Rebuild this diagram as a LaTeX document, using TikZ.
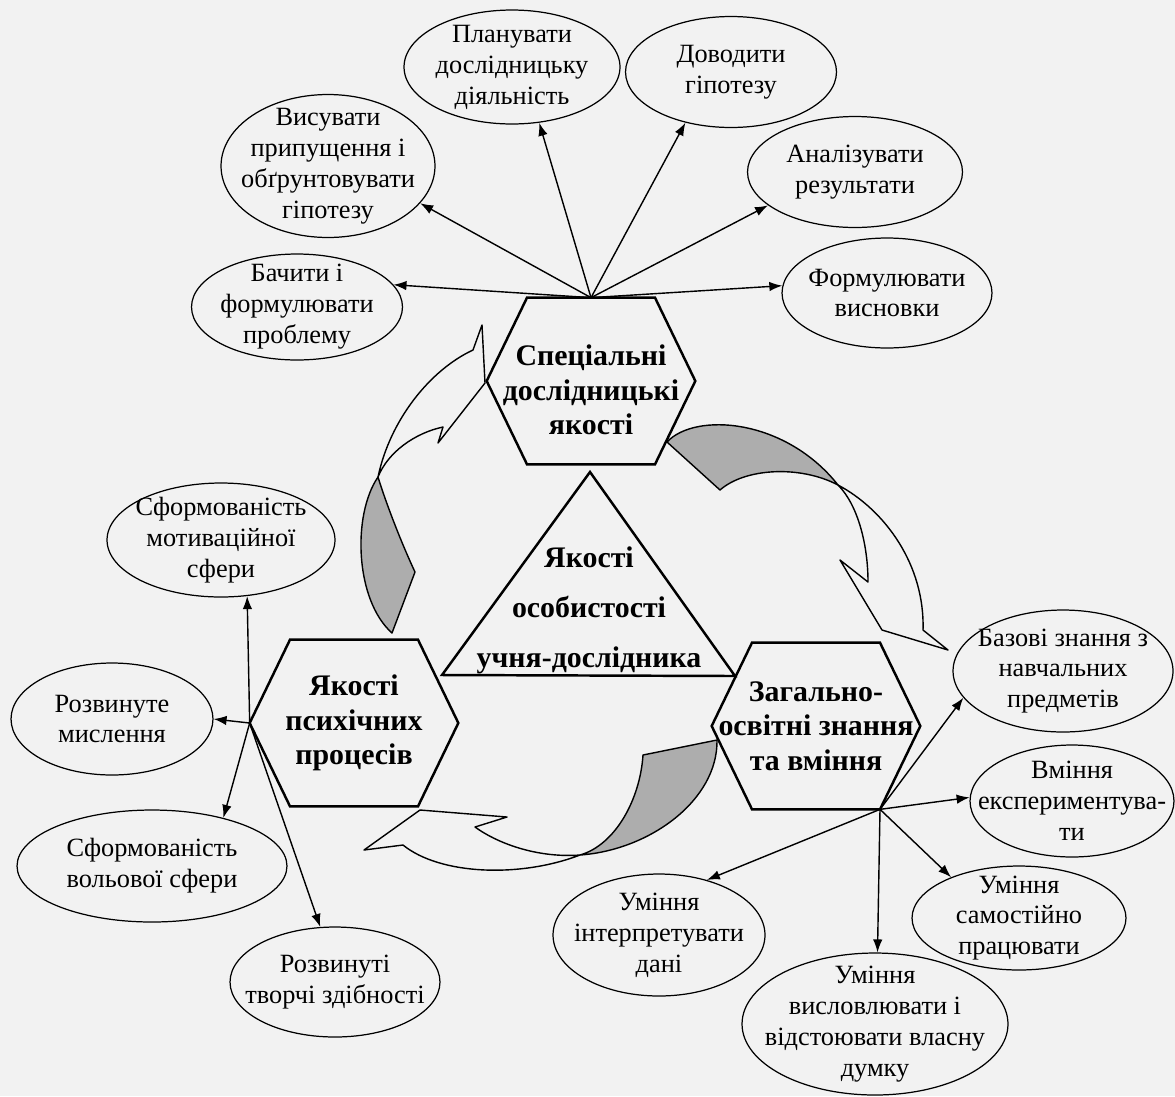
\documentclass[tikz,border=0pt]{standalone}
\usepackage{fontspec}
\setmainfont{Liberation Serif}
\usetikzlibrary{shapes.geometric,arrows.meta,calc}

\tikzset{
  item/.style={ellipse, draw, line width=0.7pt, inner sep=0pt},
  itemtext/.style={align=center, font=\fontsize{15}{17.6}\selectfont},
  hexa/.style={inner sep=0pt, minimum width=4.16cm, minimum height=3.32cm},
  hexatext/.style={align=center, font=\fontsize{17}{19.5}\selectfont\bfseries},
  core/.style={align=center, font=\fontsize{17}{28.5}\selectfont\bfseries},
  conn/.style={-{Latex[length=2.6mm,width=1.9mm]}, line width=0.8pt},
  ribbon/.style={line width=0.8pt, line join=round},
  shade/.style={ribbon, draw=black, fill=black!32},
}

\begin{document}
\begin{tikzpicture}[x=0.02cm, y=-0.02cm]
  \useasboundingbox (0,0) rectangle (1175,1096);
  \fill[black!5] (0,0) rectangle (1175,1096);

  \node[hexa, label={[hexatext, yshift=-5pt]center:Спеціальні\\дослідницькі\\якості}] (spec) at (591,381) {};
  \node[hexa, label={[hexatext]center:Якості\\психічних\\процесів}] (psych) at (354,723) {};
  \node[hexa, label={[hexatext]center:Загально-\\освітні знання\\та вміння}] (zag) at (816,726) {};
  \foreach \h in {spec,psych,zag}
    \draw[line width=1.4pt] (\h.west) -- ($(\h.north)+(-64,0)$) -- ($(\h.north)+(64,0)$)
      -- (\h.east) -- ($(\h.south)+(64,0)$) -- ($(\h.south)+(-64,0)$) -- cycle;
  \draw[line width=1.4pt] (590,472) -- (735,676) -- (442,675) -- cycle;
  \node[core] (core) at (589,610) {Якості\\особистості\\учня-дослідника};

  \node[item, minimum width=4.32cm, minimum height=2.28cm,
    label={[itemtext]center:Планувати\\дослідницьку\\діяльність}] (plan) at (512,67) {};
  \node[item, minimum width=4.22cm, minimum height=2.22cm,
    label={[itemtext]center:Доводити\\гіпотезу}] (dov) at (731,72) {};
  \node[item, minimum width=4.28cm, minimum height=2.86cm,
    label={[itemtext]center:Висувати\\припущення і\\обґрунтовувати\\гіпотезу}] (vys) at (328,166) {};
  \node[item, minimum width=4.22cm, minimum height=2.12cm,
    label={[itemtext]center:Бачити і\\формулювати\\проблему}] (bach) at (297,307) {};
  \node[item, minimum width=4.3cm, minimum height=2.22cm,
    label={[itemtext]center:Аналізувати\\результати}] (anal) at (855,172) {};
  \node[item, minimum width=4.2cm, minimum height=2.2cm,
    label={[itemtext]center:Формулювати\\висновки}] (form) at (887,293) {};
  \node[item, minimum width=4.56cm, minimum height=2.28cm,
    label={[itemtext]center:Сформованість\\мотиваційної\\сфери}] (motyv) at (221,540) {};
  \node[item, minimum width=4.04cm, minimum height=2.24cm,
    label={[itemtext]center:Розвинуте\\мислення}] (mysl) at (112,719) {};
  \node[item, minimum width=5.4cm, minimum height=2.24cm,
    label={[itemtext]center:Сформованість\\вольової сфери}] (vol) at (152,866) {};
  \node[item, minimum width=4.2cm, minimum height=2.2cm,
    label={[itemtext]center:Розвинуті\\творчі здібності}] (tvor) at (335,982) {};
  \node[item, minimum width=4.4cm, minimum height=2.44cm,
    label={[itemtext]center:Базові знання з\\навчальних\\предметів}] (baz) at (1063,671) {};
  \node[item, minimum width=4.08cm, minimum height=2.24cm,
    label={[itemtext]center:Вміння\\експериментува-\\ти}] (eksp) at (1072,801) {};
  \node[item, minimum width=4.28cm, minimum height=2.08cm,
    label={[itemtext]center:Уміння\\самостійно\\працювати}] (sam) at (1019,918) {};
  \node[item, minimum width=5.32cm, minimum height=2.84cm,
    label={[itemtext]center:Уміння\\висловлювати і\\відстоювати власну\\думку}] (vysl) at (875,1024) {};
  \node[item, minimum width=4.24cm, minimum height=2.44cm,
    label={[itemtext]center:Уміння\\інтерпретувати\\дані}] (interp) at (659,935) {};

  \coordinate (zagc) at ($(zag.south)+(64,0)$);
  \foreach \t in {bach.13, vys.-22, plan.-64, dov.228, anal.201, form.176}
    \draw[conn] (spec.north) -- (\t);
  \foreach \t in {motyv.-65, mysl.east, vol.34, tvor.105}
    \draw[conn] (psych.west) -- (\t);
  \foreach \t in {baz.195, eksp.178, sam.149, vysl.88, interp.49}
    \draw[conn] (zagc) -- (\t);

  \draw[shade] (378,477) .. controls (352,515) and (355,600) .. (392,633) -- (415,572)
    .. controls (400,540) and (385,500) .. (378,477) -- cycle;
  \draw[ribbon] (378,477) .. controls (390,420) and (430,370) .. (473,350) -- (482,325)
    -- (485,383) -- (438,443) -- (443,427) .. controls (415,433) and (388,452) .. (378,477) -- cycle;
  \draw[shade] (667,442) .. controls (695,412) and (785,418) .. (838,485)
    .. controls (800,465) and (745,468) .. (720,490) -- cycle;
  \draw[ribbon] (838,485) .. controls (885,510) and (925,565) .. (923,630) -- (948,650)
    -- (882,630) -- (840,560) -- (868,582) .. controls (868,545) and (858,505) .. (838,485) -- cycle;
  \draw[shade] (717,740) .. controls (718,800) and (650,850) .. (580,855)
    .. controls (615,845) and (640,800) .. (643,755) -- cycle;
  \draw[ribbon] (580,855) .. controls (520,878) and (440,875) .. (403,845) -- (364,850)
    -- (420,810) -- (507,817) -- (475,827) .. controls (500,845) and (540,858) .. (580,855) -- cycle;
\end{tikzpicture}
\end{document}
